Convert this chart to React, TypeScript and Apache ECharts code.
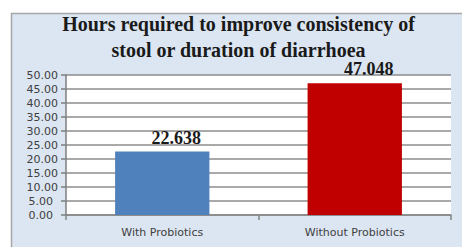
import React, { useEffect, useRef } from "react";
import * as echarts from "echarts";

const categories = ["With Probiotics", "Without Probiotics"];
const values = [22.638, 47.048];
const barColors = ["#4f81bd", "#c00000"];
const titleLines = ["Hours required to improve consistency of", "stool or duration of diarrhoea"];

export default function App() {
  const ref = useRef<HTMLDivElement>(null);
  useEffect(() => {
    document.body.style.margin = "0";
    document.body.style.background = "#ffffff";
    const chart = echarts.init(ref.current!, null, { renderer: "svg" });
    chart.setOption({
      animation: false,
      backgroundColor: "#ffffff",
      graphic: [
        {
          type: "rect",
          z: -10,
          silent: true,
          shape: { x: 11.5, y: 13.5, width: 470, height: 260 },
          style: { fill: "#dce6f2", stroke: "#a6a6a6", lineWidth: 1.5 },
        },
        {
          type: "text",
          x: 238.5,
          y: 11,
          style: {
            text: titleLines.join("\n"),
            textAlign: "center",
            textVerticalAlign: "top",
            fontFamily: "Liberation Serif",
            fontWeight: "bold",
            fontSize: 20,
            lineHeight: 26,
            fill: "#1a1a1a",
          },
        },
      ],
      grid: {
        left: 66,
        right: 11,
        top: 75,
        bottom: 32,
        show: true,
        backgroundColor: "#ffffff",
        borderWidth: 0,
      },
      xAxis: {
        type: "category",
        data: categories,
        axisLine: { show: true, lineStyle: { color: "#868686", width: 1.5 } },
        axisTick: { show: true, alignWithLabel: false, length: 5, lineStyle: { color: "#868686", width: 1.5 } },
        axisLabel: {
          color: "#404040",
          fontFamily: "DejaVu Sans",
          fontSize: 11,
          margin: 12,
        },
      },
      yAxis: {
        type: "value",
        min: 0,
        max: 50,
        interval: 5,
        axisLine: { show: true, lineStyle: { color: "#7f7f7f", width: 1.5 } },
        axisTick: { show: true, length: 5, lineStyle: { color: "#7f7f7f", width: 1.5 } },
        splitLine: { show: true, lineStyle: { color: "#8c8c8c", width: 1.5 } },
        axisLabel: {
          color: "#404040",
          fontFamily: "DejaVu Sans",
          fontSize: 11,
          margin: 8,
          formatter: (v: number) => (v < 10 ? "{s|" + v.toFixed(2) + "}" : v.toFixed(2)),
          rich: {
            s: {
              color: "#404040",
              fontFamily: "DejaVu Sans",
              fontSize: 11,
              padding: [0, 5, 0, 0],
            },
          },
        },
      },
      series: [
        {
          type: "bar",
          barWidth: "49%",
          data: values.map((v, i) => ({ value: v, itemStyle: { color: barColors[i] } })),
          label: {
            show: true,
            position: "top",
            distance: 5,
            offset: [14, 0],
            fontFamily: "Liberation Serif",
            fontWeight: "bold",
            fontSize: 18,
            color: "#1a1a1a",
            formatter: (p: any) => p.value.toFixed(3),
          },
        },
      ],
    });
    return () => chart.dispose();
  }, []);
  return <div ref={ref} style={{ width: 462, height: 247 }} />;
}
